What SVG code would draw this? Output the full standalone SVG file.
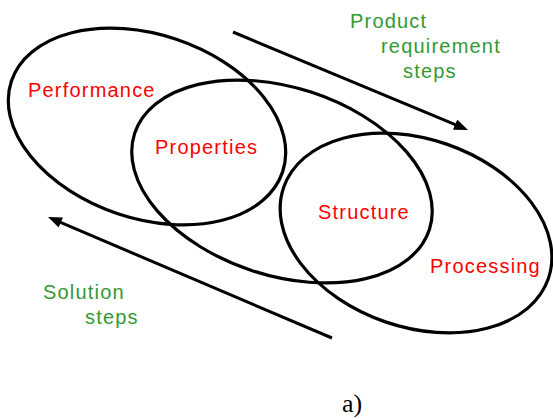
<svg xmlns="http://www.w3.org/2000/svg" width="553" height="419" viewBox="0 0 553 419">
  <style>
    .ring { fill: none; stroke: #000; stroke-width: 3.2; }
    .lbl { font-family: "Liberation Sans", Arial, sans-serif; font-size: 20px; letter-spacing: 1.2px; }
    .red { fill: #ff0000; }
    .green { fill: #339933; }
    .conn { fill: none; stroke: #000; stroke-width: 3; marker-end: url(#head); }
    .cap { font-family: "Liberation Serif", "Times New Roman", serif; font-size: 26px; fill: #000; }
  </style>
  <defs>
    <marker id="head" markerUnits="userSpaceOnUse" markerWidth="14" markerHeight="11" refX="8" refY="5.5" orient="auto">
      <path d="M0,0 L14,5.5 L0,11 z" fill="#000"/>
    </marker>
  </defs>
  <rect width="553" height="419" fill="#fff"/>

  <g id="performance">
    <ellipse class="ring" cx="147" cy="126.5" rx="143" ry="92" transform="rotate(18.5 147 126.5)"/>
    <text class="lbl red" x="28" y="97">Performance</text>
  </g>
  <g id="properties">
    <ellipse class="ring" cx="282" cy="181.5" rx="155" ry="94" transform="rotate(18 282 181.5)"/>
    <text class="lbl red" x="155" y="154">Properties</text>
  </g>
  <g id="processing">
    <ellipse class="ring" cx="416" cy="233" rx="140" ry="94" transform="rotate(19 416 233)"/>
    <text class="lbl red" x="318" y="219">Structure</text>
    <text class="lbl red" x="430" y="273">Processing</text>
  </g>

  <g id="connectors">
    <path class="conn" d="M233,32 L462.5,127.7"/>
    <path class="conn" d="M332,338 L53.5,219.4"/>
  </g>

  <g id="product-label">
    <text class="lbl green" x="350" y="28">Product</text>
    <text class="lbl green" x="381" y="53">requirement</text>
    <text class="lbl green" x="403" y="78">steps</text>
  </g>
  <g id="solution-label">
    <text class="lbl green" x="43" y="299">Solution</text>
    <text class="lbl green" x="85" y="324">steps</text>
  </g>
  <g id="caption">
    <text class="cap" x="342" y="412">a)</text>
  </g>
</svg>
